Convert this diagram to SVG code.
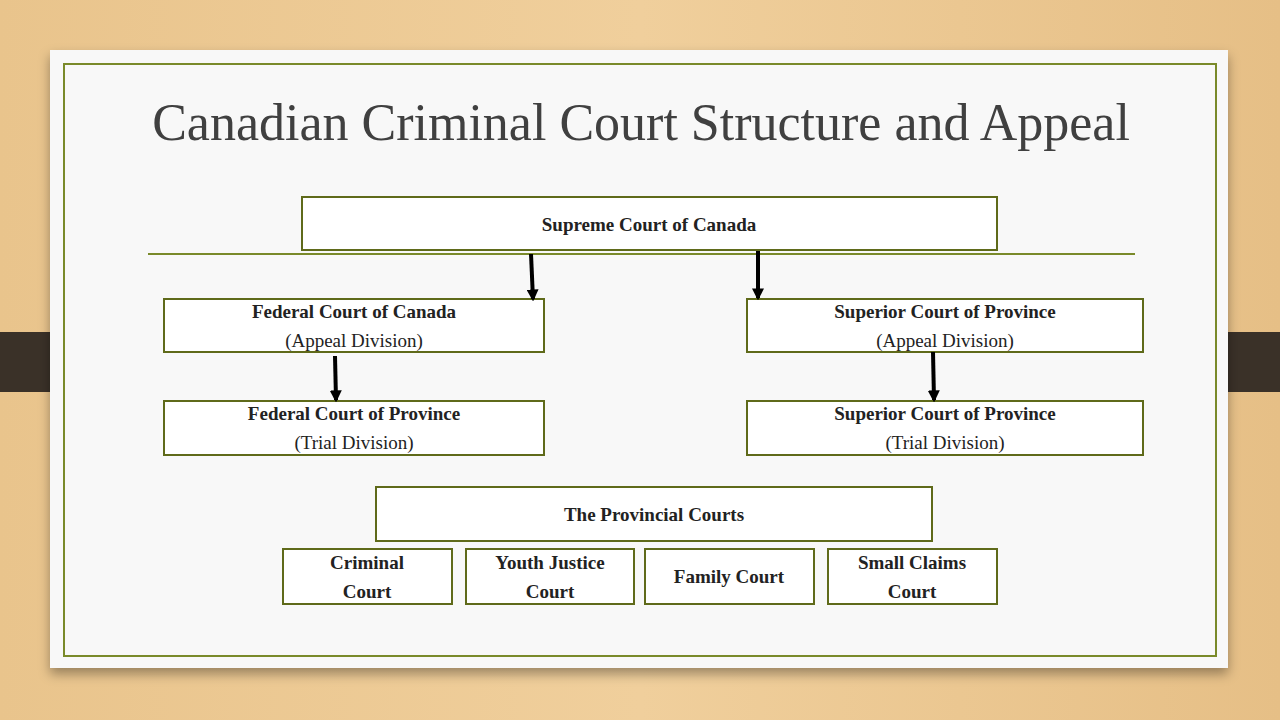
<svg xmlns="http://www.w3.org/2000/svg" width="1280" height="720" viewBox="0 0 1280 720">
<defs>
<linearGradient id="wood" x1="0" y1="0" x2="1" y2="0">
<stop offset="0" stop-color="#e9c48c"/><stop offset="0.5" stop-color="#f0cf9c"/><stop offset="1" stop-color="#e6bf86"/>
</linearGradient>
<marker id="ah" viewBox="0 0 10 10" refX="8" refY="5" markerWidth="3" markerHeight="3" orient="auto">
<path d="M0,0 L10,5 L0,10 z" fill="#000"/>
</marker>
<filter id="sh" x="-5%" y="-5%" width="110%" height="115%"><feDropShadow dx="0" dy="6" stdDeviation="6" flood-opacity="0.35"/></filter>
</defs>
<style>
.box{fill:#fff;stroke:#5f6a1a;stroke-width:2}
.t{font-family:"Liberation Serif",serif;font-size:19px;fill:#222;text-anchor:middle}
.b{font-weight:bold}
.arr{stroke:#000;stroke-width:4;marker-end:url(#ah)}
</style>
<rect width="1280" height="720" fill="url(#wood)"/>
<rect x="0" y="332" width="80" height="60" fill="#3a3128"/>
<rect x="1200" y="332" width="80" height="60" fill="#3a3128"/>
<rect x="50" y="50" width="1178" height="618" fill="#f8f8f8" filter="url(#sh)"/>
<rect x="64" y="64" width="1152" height="592" fill="none" stroke="#7a8a2a" stroke-width="2"/>
<text x="641" y="140" font-family="Liberation Serif,serif" font-size="52" fill="#404040" text-anchor="middle">Canadian Criminal Court Structure and Appeal</text>
<line x1="148" y1="254" x2="1135" y2="254" stroke="#7a8a2a" stroke-width="2"/>
<g id="supreme"><rect class="box" x="302" y="197" width="695" height="53"/><text class="t b" x="649" y="231">Supreme Court of Canada</text></g>
<g id="fed-appeal"><rect class="box" x="164" y="299" width="380" height="53"/><text class="t b" x="354" y="318">Federal Court of Canada</text><text class="t" x="354" y="347">(Appeal Division)</text></g>
<g id="sup-appeal"><rect class="box" x="747" y="299" width="396" height="53"/><text class="t b" x="945" y="318">Superior Court of Province</text><text class="t" x="945" y="347">(Appeal Division)</text></g>
<g id="fed-trial"><rect class="box" x="164" y="401" width="380" height="54"/><text class="t b" x="354" y="420">Federal Court of Province</text><text class="t" x="354" y="449">(Trial Division)</text></g>
<g id="sup-trial"><rect class="box" x="747" y="401" width="396" height="54"/><text class="t b" x="945" y="420">Superior Court of Province</text><text class="t" x="945" y="449">(Trial Division)</text></g>
<g id="provincial"><rect class="box" x="376" y="487" width="556" height="54"/><text class="t b" x="654" y="521">The Provincial Courts</text></g>
<g id="criminal"><rect class="box" x="283" y="549" width="169" height="55"/><text class="t b" x="367" y="569">Criminal</text><text class="t b" x="367" y="598">Court</text></g>
<g id="youth"><rect class="box" x="466" y="549" width="168" height="55"/><text class="t b" x="550" y="569">Youth Justice</text><text class="t b" x="550" y="598">Court</text></g>
<g id="family"><rect class="box" x="645" y="549" width="169" height="55"/><text class="t b" x="729" y="583">Family Court</text></g>
<g id="small"><rect class="box" x="828" y="549" width="169" height="55"/><text class="t b" x="912" y="569">Small Claims</text><text class="t b" x="912" y="598">Court</text></g>
<g id="connectors">
<line class="arr" x1="531" y1="254" x2="533" y2="299"/>
<line class="arr" x1="758" y1="251" x2="758" y2="298"/>
<line class="arr" x1="335" y1="356" x2="336" y2="400"/>
<line class="arr" x1="933" y1="352" x2="934" y2="400"/>
</g>
</svg>
